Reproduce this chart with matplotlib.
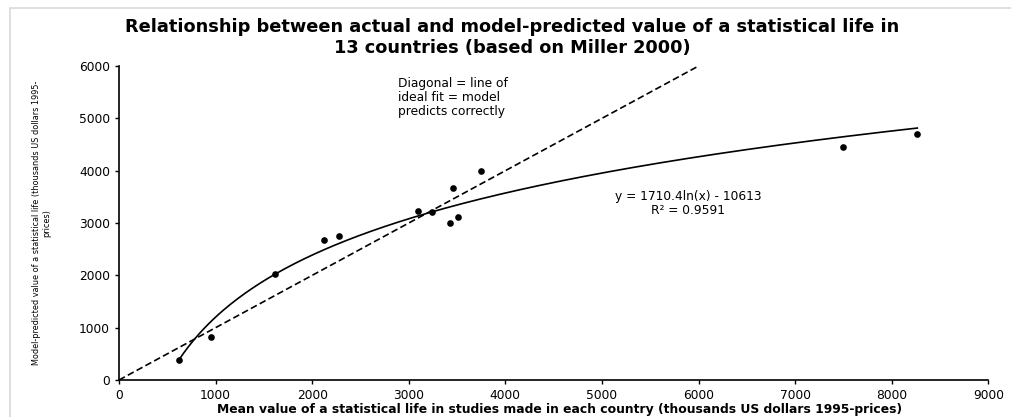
import numpy as np
import matplotlib
matplotlib.use("Agg")
import matplotlib.pyplot as plt
from matplotlib.patches import Rectangle
from matplotlib import font_manager

# data (thousands US dollars, 1995 prices)
actual_vsl = [618, 952, 1618, 2119, 2274, 3095, 3240, 3423, 3461, 3506, 3750, 7500, 8265]
predicted_vsl = [377, 818, 2031, 2682, 2759, 3238, 3213, 3002, 3678, 3109, 3985, 4444, 4693]

# logarithmic trend line shown in the chart
trend_a = 1710.4
trend_b = -10613
trend_label = "y = 1710.4ln(x) - 10613\nR² = 0.9591"

diag_end = 6000
x_ticks = [0, 1000, 2000, 3000, 4000, 5000, 6000, 7000, 8000, 9000]
y_ticks = [0, 1000, 2000, 3000, 4000, 5000, 6000]

# narrow font for the y label if one is around
names = {f.name for f in font_manager.fontManager.ttflist}
condensed = any(f.name == "DejaVu Sans" and f.stretch == "condensed"
                for f in font_manager.fontManager.ttflist)
if "Liberation Sans Narrow" in names:
    ylab_font = dict(family="Liberation Sans Narrow", fontsize=7.5)
elif condensed:
    ylab_font = dict(family="DejaVu Sans", fontstretch="condensed", fontsize=6.5)
else:
    ylab_font = dict(family="Liberation Sans", fontsize=6.2)

fig = plt.figure(figsize=(10.12, 4.17), dpi=100)
ax = fig.add_axes([0.1176, 0.0887, 0.8590, 0.7530])

# chart area border
fig.patches.append(Rectangle((0.0099, -0.01), 0.995, 0.99, transform=fig.transFigure,
                             fill=False, edgecolor="#d9d9d9", linewidth=1.2))

ax.plot([0, diag_end], [0, diag_end], color="black", linestyle=(0, (4, 2)), linewidth=1.2)

xs = np.linspace(min(actual_vsl), max(actual_vsl), 300)
ax.plot(xs, trend_a * np.log(xs) + trend_b, color="black", linewidth=1.2)

ax.plot(actual_vsl, predicted_vsl, "o", color="black", markersize=4.8, markeredgewidth=0)

ax.set_xlim(0, 9000)
ax.set_ylim(0, 6000)
ax.set_xticks(x_ticks)
ax.set_yticks(y_ticks)
ax.tick_params(labelsize=8.8, length=3, width=1, direction="out")
for s in ["top", "right"]:
    ax.spines[s].set_visible(False)
for s in ["left", "bottom"]:
    ax.spines[s].set_linewidth(1.2)

ax.set_xlabel("Mean value of a statistical life in studies made in each country (thousands US dollars 1995-prices)",
              fontsize=8.9, fontweight="bold", labelpad=1)
ax.xaxis.label.set_x(0.507)
ax.set_ylabel("Model-predicted value of a statistical life (thousands US dollars 1995-\nprices)",
              labelpad=20, **ylab_font)

fig.text(0.506, 0.958, "Relationship between actual and model-predicted value of a statistical life in\n13 countries (based on Miller 2000)",
         ha="center", va="top", fontsize=12.8, fontweight="bold", linespacing=1.25)

ax.text(2888, 5790, "Diagonal = line of\nideal fit = model\npredicts correctly",
        fontsize=8.8, ha="left", va="top", linespacing=1.1)
ax.text(5890, 3375, trend_label, fontsize=8.8, ha="center", va="center", linespacing=1.1)

fig.savefig("out.png", dpi=100)
